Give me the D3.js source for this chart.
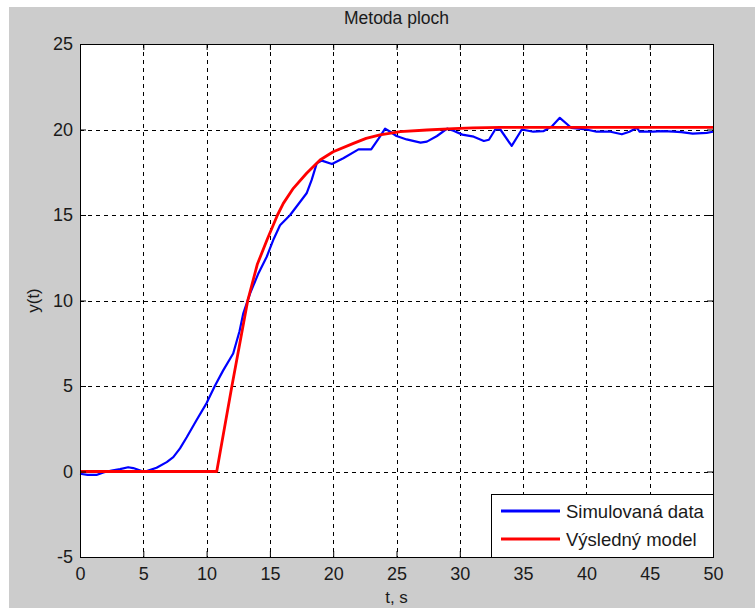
<!DOCTYPE html>
<html>
<head>
<meta charset="utf-8">
<style>
  body { margin: 0; background: #fff; }
  text { font-family: "Liberation Sans", Arial, sans-serif; fill: #1a1a1a; }
</style>
<script src="https://cdn.jsdelivr.net/npm/d3@7"></script>
</head>
<body>
<svg id="chart"></svg>
<script>
// ===== data =====
var simT = [0, 0.6, 1.3, 1.85, 2.5, 3.16, 3.8, 4.2, 4.6, 5.0, 5.27, 6.05, 6.85, 7.37, 7.9,
            8.43, 9.2, 10.0, 10.65, 11.3, 12.1, 12.6, 12.9, 13.43, 14.1, 14.75, 15.3, 15.8,
            16.6, 17.9, 18.3, 18.7, 19.1, 19.9, 20.8, 22.0, 23.0, 23.6, 24.1, 24.5, 25.0,
            25.8, 26.9, 27.4, 28.2, 29.0, 29.5, 30.2, 31.1, 31.9, 32.3, 32.8, 33.2, 34.1,
            34.9, 35.8, 36.6, 37.3, 37.9, 38.8, 40.0, 40.8, 41.9, 42.8, 43.4, 44.0, 44.2,
            45.3, 46.0, 46.9, 47.5, 48.4, 49.5, 50];
var simY = [-0.13, -0.2, -0.2, -0.05, 0.06, 0.14, 0.25, 0.2, 0.1, 0.0, 0.02, 0.22, 0.55, 0.84, 1.35,
            2.0, 3.0, 4.0, 5.0, 5.9, 6.9, 8.2, 9.25, 10.4, 11.6, 12.56, 13.6, 14.4,
            15.0, 16.27, 17.05, 18.02, 18.18, 17.98, 18.32, 18.84, 18.84, 19.48, 20.05, 19.87, 19.62,
            19.42, 19.23, 19.29, 19.62, 20.05, 19.93, 19.7, 19.58, 19.33, 19.4, 20.0, 20.0, 19.04,
            20.0, 19.87, 19.9, 20.2, 20.68, 20.1, 20.0, 19.87, 19.87, 19.72, 19.87, 20.1, 19.87,
            19.87, 19.9, 19.87, 19.85, 19.76, 19.8, 19.87];

var modelT = [0, 10.8, 12.0, 13.25, 14.0, 14.8, 15.6, 16.06, 16.85, 17.9, 18.96, 20.0, 21.6,
              22.6, 23.7, 25.3, 27.4, 29.5, 31.0, 33.2, 50];
var modelY = [0, 0, 5, 10, 12.1, 13.6, 15.0, 15.68, 16.56, 17.44, 18.22, 18.7, 19.19,
              19.48, 19.68, 19.87, 19.97, 20.05, 20.1, 20.13, 20.13];

var xTicks = [0, 5, 10, 15, 20, 25, 30, 35, 40, 45, 50];
var yTicks = [-5, 0, 5, 10, 15, 20, 25];

var TITLE = 'Metoda ploch';
var X_LABEL = 't, s';
var Y_LABEL = 'y(t)';
var SERIES_NAMES = ['Simulovaná data', 'Výsledný model'];
var SERIES_COLORS = ['#0000ff', '#ff0000'];

// ===== layout =====
var W = 755, H = 608;
var plot = {left: 80, top: 44, right: 713, bottom: 557};

var svg = d3.select('#chart')
    .attr('width', W)
    .attr('height', H);

// figure background
svg.append('rect')
    .attr('x', 9).attr('y', 7)
    .attr('width', W - 9).attr('height', H - 7)
    .attr('fill', '#cccccc');

var x = d3.scaleLinear().domain([0, 50]).range([plot.left, plot.right]);
var y = d3.scaleLinear().domain([-5, 25]).range([plot.bottom, plot.top]);

// plain hyphen for negatives, like the reference
var fmt = d => String(d);

// axes area
svg.append('rect')
    .attr('x', plot.left).attr('y', plot.top)
    .attr('width', plot.right - plot.left).attr('height', plot.bottom - plot.top)
    .attr('fill', '#fff');

// grid
var grid = svg.append('g')
    .attr('stroke', '#000')
    .attr('stroke-width', 1)
    .attr('stroke-dasharray', '4,4')
    .attr('shape-rendering', 'crispEdges');
grid.selectAll('.vg')
    .data(xTicks.slice(1, -1))
    .enter().append('line')
        .attr('x1', d => Math.round(x(d)) + 0.5).attr('x2', d => Math.round(x(d)) + 0.5)
        .attr('y1', plot.top).attr('y2', plot.bottom);
grid.selectAll('.hg')
    .data(yTicks.slice(1, -1))
    .enter().append('line')
        .attr('y1', d => Math.round(y(d)) + 0.5).attr('y2', d => Math.round(y(d)) + 0.5)
        .attr('x1', plot.left).attr('x2', plot.right);

// lines
var line = d3.line()
    .x(d => x(d[0]))
    .y(d => y(d[1]));

svg.append('path')
    .datum(simT.map((t, i) => [t, simY[i]]))
    .attr('d', line)
    .attr('fill', 'none')
    .attr('stroke', SERIES_COLORS[0])
    .attr('stroke-width', 2.2)
    .attr('stroke-linejoin', 'round');

svg.append('path')
    .datum(modelT.map((t, i) => [t, modelY[i]]))
    .attr('d', line)
    .attr('fill', 'none')
    .attr('stroke', SERIES_COLORS[1])
    .attr('stroke-width', 2.8)
    .attr('stroke-linejoin', 'round');

// axes with inward ticks on all four sides
var TICK = 6;
svg.append('g')
    .attr('transform', `translate(0, ${plot.bottom})`)
    .call(d3.axisBottom(x).tickValues(xTicks).tickFormat(fmt).tickSizeInner(-TICK).tickSizeOuter(0).tickPadding(10))
    .call(g => g.select('.domain').remove())
    .call(g => g.selectAll('text').attr('font-size', 18).attr('fill', '#1a1a1a'));
svg.append('g')
    .attr('transform', `translate(0, ${plot.top})`)
    .call(d3.axisTop(x).tickValues(xTicks).tickSizeInner(-TICK).tickSizeOuter(0).tickFormat(''))
    .call(g => g.select('.domain').remove());
svg.append('g')
    .attr('transform', `translate(${plot.left}, 0)`)
    .call(d3.axisLeft(y).tickValues(yTicks).tickFormat(fmt).tickSizeInner(-TICK).tickSizeOuter(0).tickPadding(7))
    .call(g => g.select('.domain').remove())
    .call(g => g.selectAll('text').attr('font-size', 18).attr('fill', '#1a1a1a'));
svg.append('g')
    .attr('transform', `translate(${plot.right}, 0)`)
    .call(d3.axisRight(y).tickValues(yTicks).tickSizeInner(-TICK).tickSizeOuter(0).tickFormat(''))
    .call(g => g.select('.domain').remove());
svg.selectAll('.tick line').attr('stroke', '#000');
svg.selectAll('.tick text').attr('font-family', '"Liberation Sans", Arial, sans-serif');

// axes box
svg.append('rect')
    .attr('x', plot.left + 0.5).attr('y', plot.top + 0.5)
    .attr('width', plot.right - plot.left).attr('height', plot.bottom - plot.top)
    .attr('fill', 'none')
    .attr('stroke', '#000')
    .attr('stroke-width', 1);

// title and labels
svg.append('text')
    .text(TITLE)
    .attr('x', (plot.left + plot.right) / 2)
    .attr('y', 24)
    .attr('text-anchor', 'middle')
    .attr('font-size', 17.5);
svg.append('text')
    .text(X_LABEL)
    .attr('x', (plot.left + plot.right) / 2)
    .attr('y', 603)
    .attr('text-anchor', 'middle')
    .attr('font-size', 17);
svg.append('text')
    .text(Y_LABEL)
    .attr('transform', `translate(39, ${(plot.top + plot.bottom) / 2}) rotate(-90)`)
    .attr('text-anchor', 'middle')
    .attr('font-size', 17);

// legend
var legend = svg.append('g').attr('transform', 'translate(491, 494)');
legend.append('rect')
    .attr('x', 0.5).attr('y', 0.5)
    .attr('width', 222).attr('height', 63)
    .attr('fill', '#fff')
    .attr('stroke', '#000');
SERIES_NAMES.forEach(function (name, i) {
    var row = legend.append('g').attr('transform', `translate(0, ${17 + i * 28})`);
    row.append('line')
        .attr('x1', 10).attr('x2', 69)
        .attr('y1', 0).attr('y2', 0)
        .attr('stroke', SERIES_COLORS[i])
        .attr('stroke-width', 3);
    row.append('text')
        .text(name)
        .attr('x', 75)
        .attr('y', 6.5)
        .attr('font-size', 18.5);
});
</script>
</body>
</html>
